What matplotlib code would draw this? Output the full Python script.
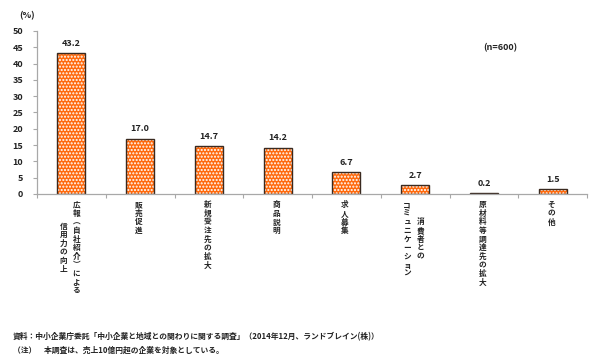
import numpy as np
import matplotlib
matplotlib.use('Agg')
import matplotlib.pyplot as plt

plt.rcParams['font.family'] = ['Noto Sans CJK JP', 'DejaVu Sans']

# data
categories = [
    ['広報︵自社紹介︶による', '信用力の向上'],
    ['販売促進'],
    ['新規受注先の拡大'],
    ['商品説明'],
    ['求人募集'],
    ['消費者との', 'コミュニケーション'],
    ['原材料等調達先の拡大'],
    ['その他'],
]
values = [43.2, 17.0, 14.7, 14.2, 6.7, 2.7, 0.2, 1.5]
y_ticks = list(range(0, 55, 5))
note_n = '(n=600)'
source_lines = [
    '資料：中小企業庁委託「中小企業と地域との関わりに関する調査」（2014年12月、ランドブレイン(株)）',
    '（注）　本調査は、売上10億円超の企業を対象としている。',
]

orange = '#ff6a0d'
edge = '#3a2a20'
grey = '#a8a8a8'
txt = '#222222'

fig = plt.figure(figsize=(6.0, 3.59), dpi=100)
ax = fig.add_axes([37 / 600, 1 - 194 / 359, 550 / 600, 163 / 359])

x = np.arange(len(values))
# fill with white dots, then dark outline on top
ax.bar(x, values, width=0.41, color=orange, edgecolor='white', hatch='.....', linewidth=0)
ax.bar(x, values, width=0.41, fill=False, edgecolor=edge, linewidth=1.0)

for xi, v in zip(x, values):
    ax.annotate(f'{v:.1f}', xy=(xi, v), xytext=(0, 7), textcoords='offset points',
                ha='center', va='center', fontsize=6.5, fontweight='bold', color=txt)

ax.set_xlim(-0.5, len(values) - 0.5)
ax.set_ylim(0, 50)
ax.set_yticks(y_ticks)
ax.set_yticklabels([str(t) for t in y_ticks], fontsize=6.5, fontweight='bold', color=txt)
ax.set_xticks(np.arange(len(values) + 1) - 0.5)
ax.set_xticklabels([])
ax.tick_params(axis='both', direction='out', length=3, color=grey, width=0.8)
ax.tick_params(axis='y', pad=7)
for s in ['top', 'right']:
    ax.spines[s].set_visible(False)
for s in ['left', 'bottom']:
    ax.spines[s].set_color(grey)
    ax.spines[s].set_linewidth(0.9)

# vertical (tategaki) category labels, first column on the right
pitch = 6.2  # points between stacked characters
col_gap = 9.4
for xi, cols in zip(x, categories):
    longest = max(len(c) for c in cols)
    ncol = len(cols)
    for ci, col in enumerate(cols):
        dx = ((ncol - 1) / 2 - ci) * col_gap - 1.0
        y0 = -4.5 - (longest - len(col)) * pitch / 2
        for k, ch in enumerate(col):
            ax.annotate(ch, xy=(xi, 0), xycoords=ax.get_xaxis_transform(),
                        xytext=(dx, y0 - k * pitch), textcoords='offset points',
                        ha='center', va='top', fontsize=5.5, fontweight='bold',
                        color=txt, annotation_clip=False)

fig.text(27 / 600, 1 - 16 / 359, '(%)', ha='center', va='center', fontsize=6.5,
         fontweight='bold', color=txt)
ax.text(0.842, 44.8, note_n, transform=ax.get_yaxis_transform(), ha='center', va='center',
        fontsize=6.5, fontweight='bold', color=txt)

fig.text(13 / 600, 1 - 337 / 359, source_lines[0], ha='left', va='center', fontsize=5.6,
         fontweight='bold', color=txt)
fig.text(13 / 600, 1 - 350 / 359, source_lines[1], ha='left', va='center', fontsize=5.6,
         fontweight='bold', color=txt)

fig.savefig('out.png', dpi=100)
